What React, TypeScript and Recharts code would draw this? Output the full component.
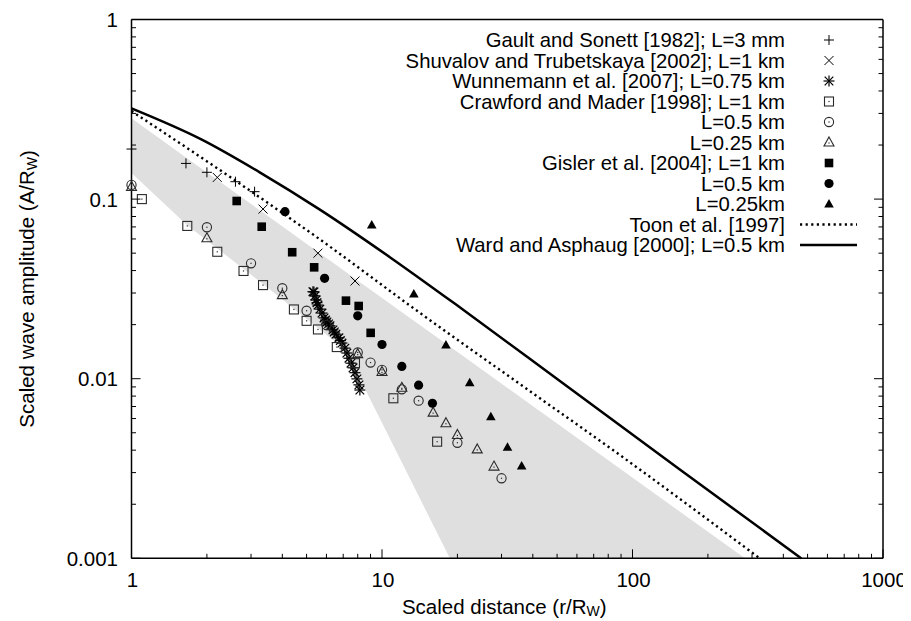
import React from 'react';
import { ComposedChart, XAxis, YAxis, Scatter, Line, Area, Legend } from 'recharts';

const FONT = '"Liberation Sans", Arial, Helvetica, sans-serif';
const FS = 20.5;
const LEGEND_FS = 20.3;

// ---- axis ticks ----
const X_TICKS = [1, 2, 3, 4, 5, 6, 7, 8, 9, 10, 20, 30, 40, 50, 60, 70, 80, 90, 100, 200, 300, 400, 500, 600, 700, 800, 900, 1000];
const X_MAJOR = [1, 10, 100, 1000];
const X_LABELS = ['1', '10', '100', '1000'];
const Y_TICKS = [0.001, 0.002, 0.003, 0.004, 0.005, 0.006, 0.007, 0.008, 0.009, 0.01, 0.02, 0.03, 0.04, 0.05, 0.06, 0.07, 0.08, 0.09, 0.1, 0.2, 0.3, 0.4, 0.5, 0.6, 0.7, 0.8, 0.9, 1];
const Y_MAJOR = [0.001, 0.01, 0.1, 1];
const Y_LABELS = ['0.001', '0.01', '0.1', '1'];

// ---- data series ----
const GAULT_X = [1.0, 1.65, 2.0, 2.6, 3.1];
const GAULT_Y = [0.19, 0.158, 0.141, 0.125, 0.11];

const SHUV_X = [2.2, 3.35, 5.55, 7.8];
const SHUV_Y = [0.132, 0.088, 0.05, 0.035];

const WUNN_X = [5.3, 5.35, 5.4, 5.45, 5.5, 5.55, 5.65, 5.76, 5.87, 5.95, 6.03, 6.12, 6.2, 6.37, 6.45, 6.55, 6.73, 6.82, 6.92, 7.11, 7.24, 7.38, 7.52, 7.66, 7.8, 7.94, 8.09, 8.16];
const WUNN_Y = [0.0305, 0.0304, 0.0289, 0.0274, 0.0265, 0.0257, 0.0244, 0.0232, 0.0218, 0.0212, 0.0207, 0.0202, 0.0197, 0.0187, 0.0182, 0.0177, 0.0169, 0.0163, 0.0158, 0.0148, 0.0139, 0.013, 0.0122, 0.0115, 0.0108, 0.00998, 0.00924, 0.00865];

const CM1_X = [1.1, 1.67, 2.2, 2.8, 3.35, 4.45, 5.0, 5.55, 6.6, 7.8, 11.1, 16.6];
const CM1_Y = [0.1, 0.0709, 0.0509, 0.0398, 0.0332, 0.0243, 0.021, 0.0188, 0.015, 0.0122, 0.00778, 0.00446];

const CM05_X = [1, 2, 3, 4, 5, 6, 8, 9, 10, 12, 14, 20, 30];
const CM05_Y = [0.12, 0.0697, 0.0439, 0.0319, 0.0239, 0.0199, 0.014, 0.0123, 0.0112, 0.00873, 0.00754, 0.0044, 0.00279];

const CM025_X = [1, 2, 4, 8, 10, 12, 16, 18, 20, 24, 28];
const CM025_Y = [0.117, 0.0605, 0.0292, 0.0137, 0.0109, 0.0089, 0.00647, 0.00565, 0.00486, 0.00404, 0.00324];

const G1_X = [2.63, 3.31, 4.38, 5.36, 7.18, 8.07, 9.01];
const G1_Y = [0.0976, 0.0702, 0.0506, 0.0417, 0.0272, 0.0254, 0.018];

const G05_X = [4.1, 5.9, 8, 10, 12, 14, 15.9];
const G05_Y = [0.0851, 0.0362, 0.0224, 0.0155, 0.0117, 0.0092, 0.0073];

const G025_X = [9.1, 13.4, 18, 22.4, 27.2, 31.7, 36.1];
const G025_Y = [0.0718, 0.0296, 0.0154, 0.0095, 0.00614, 0.00415, 0.00327];

const TOON_X = [1, 2.47, 5.48, 14.2, 35.5, 89, 322];
const TOON_Y = [0.309, 0.133, 0.0615, 0.0232, 0.00934, 0.00376, 0.001];

const WARD_X = [1, 1.9, 3.25, 5.65, 10.75, 20.5, 51.3, 154, 472];
const WARD_Y = [0.32, 0.215, 0.141, 0.0874, 0.0475, 0.0249, 0.0097, 0.00313, 0.001];

// shaded band (lower / upper boundaries)
const BAND_X = [1, 1.665, 3.35, 5.55, 6.67, 7.59, 18.66, 281];
const BAND_LOW = [0.1397, 0.0717, 0.0337, 0.01915, 0.0156, 0.01223, 0.001, 0.001];
const BAND_HIGH = [0.282, 0.169, 0.0841, 0.0508, 0.0423, 0.0371, 0.0151, 0.001];

const LEGEND_LABELS = [
  'Gault and Sonett [1982]; L=3 mm',
  'Shuvalov and Trubetskaya [2002]; L=1 km',
  'Wunnemann et al. [2007]; L=0.75 km',
  'Crawford and Mader [1998]; L=1 km',
  'L=0.5 km',
  'L=0.25 km',
  'Gisler et al. [2004]; L=1 km',
  'L=0.5 km',
  'L=0.25km',
  'Toon et al. [1997]',
  'Ward and Asphaug [2000]; L=0.5 km',
];
const LEGEND_KINDS = ['plus', 'cross', 'star', 'osq', 'ocirc', 'otri', 'fsq', 'fcirc', 'ftri', 'dotted', 'solid'];

const zip = (xs: number[], ys: number[]) => xs.map((x, i) => ({ x, y: ys[i] }));
const bandData = BAND_X.map((x, i) => ({ x, band: [BAND_LOW[i], BAND_HIGH[i]] }));

const INK = '#000';
const OPEN = '#2a2a2a';

function Marker({ kind, cx, cy }: { kind: string; cx: number; cy: number }) {
  if (cx == null || cy == null || isNaN(cx) || isNaN(cy)) return null;
  switch (kind) {
    case 'plus':
      return (
        <g stroke={INK} strokeWidth={1}>
          <line x1={cx - 5} x2={cx + 5} y1={cy} y2={cy} />
          <line x1={cx} x2={cx} y1={cy - 5} y2={cy + 5} />
        </g>
      );
    case 'cross':
      return (
        <g stroke={INK} strokeWidth={1}>
          <line x1={cx - 4.5} y1={cy - 4.5} x2={cx + 4.5} y2={cy + 4.5} />
          <line x1={cx - 4.5} y1={cy + 4.5} x2={cx + 4.5} y2={cy - 4.5} />
        </g>
      );
    case 'star':
      return (
        <g stroke={INK} strokeWidth={1.2}>
          <line x1={cx - 5.5} x2={cx + 5.5} y1={cy} y2={cy} />
          <line x1={cx} x2={cx} y1={cy - 5.5} y2={cy + 5.5} />
          <line x1={cx - 4.3} y1={cy - 4.3} x2={cx + 4.3} y2={cy + 4.3} />
          <line x1={cx - 4.3} y1={cy + 4.3} x2={cx + 4.3} y2={cy - 4.3} />
        </g>
      );
    case 'osq':
      return (
        <g>
          <rect x={cx - 4.5} y={cy - 4.5} width={9} height={9} fill="none" stroke={OPEN} strokeWidth={1.1} />
          <rect x={cx - 0.6} y={cy - 0.6} width={1.2} height={1.2} fill={OPEN} />
        </g>
      );
    case 'ocirc':
      return (
        <g>
          <circle cx={cx} cy={cy} r={4.6} fill="none" stroke={OPEN} strokeWidth={1.1} />
          <rect x={cx - 0.6} y={cy - 0.6} width={1.2} height={1.2} fill={OPEN} />
        </g>
      );
    case 'otri':
      return (
        <g>
          <polygon points={`${cx},${cy - 5.5} ${cx + 5},${cy + 3.5} ${cx - 5},${cy + 3.5}`} fill="none" stroke={OPEN} strokeWidth={1.1} />
          <rect x={cx - 0.6} y={cy - 0.1} width={1.2} height={1.2} fill={OPEN} />
        </g>
      );
    case 'fsq':
      return <rect x={cx - 4.3} y={cy - 4.3} width={8.6} height={8.6} fill={INK} />;
    case 'fcirc':
      return <circle cx={cx} cy={cy} r={4.6} fill={INK} />;
    case 'ftri':
      return <polygon points={`${cx},${cy - 5} ${cx + 4.8},${cy + 3.5} ${cx - 4.8},${cy + 3.5}`} fill={INK} />;
    default:
      return null;
  }
}

const shapeOf = (kind: string) => (p: any) => <Marker kind={kind} cx={p.cx} cy={p.cy} />;

const textProps = { fontFamily: FONT, fontSize: FS, fill: '#000' };

const XTickBottom = (props: any) => {
  const { x, y, payload } = props;
  const idx = X_MAJOR.indexOf(payload.value);
  const major = idx >= 0;
  return (
    <g>
      <line x1={x} x2={x} y1={y} y2={y - (major ? 9 : 4.5)} stroke={INK} strokeWidth={1} />
      {major && (
        <text x={x + 1} y={y + 21} textAnchor="middle" dominantBaseline="central" {...textProps}>
          {X_LABELS[idx]}
        </text>
      )}
    </g>
  );
};

const XTickTop = (props: any) => {
  const { x, y, payload } = props;
  const major = X_MAJOR.indexOf(payload.value) >= 0;
  return <line x1={x} x2={x} y1={y} y2={y + (major ? 9 : 4.5)} stroke={INK} strokeWidth={1} />;
};

const YTickLeft = (props: any) => {
  const { x, y, payload } = props;
  const idx = Y_MAJOR.indexOf(payload.value);
  const major = idx >= 0;
  return (
    <g>
      <line x1={x} x2={x + (major ? 9 : 4.5)} y1={y} y2={y} stroke={INK} strokeWidth={1} />
      {major && (
        <text x={x - 13.5} y={y} textAnchor="end" dominantBaseline="central" {...textProps}>
          {Y_LABELS[idx]}
        </text>
      )}
    </g>
  );
};

const YTickRight = (props: any) => {
  const { x, y, payload } = props;
  const major = Y_MAJOR.indexOf(payload.value) >= 0;
  return <line x1={x} x2={x - (major ? 9 : 4.5)} y1={y} y2={y} stroke={INK} strokeWidth={1} />;
};

const XTitle = (props: any) => {
  const vb = props.viewBox || { x: 0, y: 0, width: 0, height: 0 };
  const cx = vb.x + vb.width / 2 - 3;
  const cy = vb.y + 48;
  return (
    <text x={cx} y={cy} textAnchor="middle" dominantBaseline="central" {...textProps}>
      Scaled distance (r/R
      <tspan dy={5} fontSize={14}>W</tspan>
      <tspan dy={-5}>)</tspan>
    </text>
  );
};

const YTitle = (props: any) => {
  const vb = props.viewBox || { x: 0, y: 0, width: 0, height: 0 };
  const cx = vb.x + 19;
  const cy = vb.y + vb.height / 2;
  return (
    <text x={cx} y={cy} transform={`rotate(-90, ${cx}, ${cy})`} textAnchor="middle" dominantBaseline="central" {...textProps}>
      Scaled wave amplitude (A/R
      <tspan dy={5} fontSize={14}>W</tspan>
      <tspan dy={-5}>)</tspan>
    </text>
  );
};

const LegendBox = () => (
  <svg width={520} height={240} style={{ display: 'block', overflow: 'visible' }}>
    {LEGEND_LABELS.map((lab, i) => {
      const cy = 12 + i * 20.5;
      const kind = LEGEND_KINDS[i];
      return (
        <g key={i}>
          <text x={415} y={cy} textAnchor="end" dominantBaseline="central" fontFamily={FONT} fontSize={LEGEND_FS} fill="#000">
            {lab}
          </text>
          {kind === 'dotted' ? (
            <line x1={430} x2={487} y1={cy} y2={cy} stroke={INK} strokeWidth={2.4} strokeDasharray="2.2 3.4" />
          ) : kind === 'solid' ? (
            <line x1={430} x2={487} y1={cy} y2={cy} stroke={INK} strokeWidth={2.5} />
          ) : (
            <Marker kind={kind} cx={459} cy={cy} />
          )}
        </g>
      );
    })}
  </svg>
);

const axisLine = { stroke: INK, strokeWidth: 1.5 };

export default function App() {
  return (
    <div style={{ width: 903, height: 613 }}>
      <ComposedChart
        width={903}
        height={613}
        margin={{ top: 10.5, right: 27, left: 0, bottom: 0 }}
        style={{ fontFamily: FONT }}
      >
        <XAxis
          xAxisId="main"
          dataKey="x"
          type="number"
          scale="log"
          domain={[1, 1000]}
          ticks={X_TICKS}
          interval={0}
          tick={<XTickBottom />}
          tickLine={false}
          tickSize={0}
          tickMargin={0}
          height={62.7}
          axisLine={axisLine}
          label={<XTitle />}
        />
        <XAxis
          xAxisId="top"
          orientation="top"
          type="number"
          scale="log"
          domain={[1, 1000]}
          allowDataOverflow
          ticks={X_TICKS}
          interval={0}
          tick={<XTickTop />}
          tickLine={false}
          tickSize={0}
          tickMargin={0}
          height={1}
          axisLine={axisLine}
        />
        <YAxis
          yAxisId="main"
          dataKey="y"
          type="number"
          scale="log"
          domain={[0.001, 1]}
          ticks={Y_TICKS}
          interval={0}
          tick={<YTickLeft />}
          tickLine={false}
          tickSize={0}
          tickMargin={0}
          width={123.5}
          axisLine={axisLine}
          label={<YTitle />}
        />
        <YAxis
          yAxisId="right"
          orientation="right"
          type="number"
          scale="log"
          domain={[0.001, 1]}
          allowDataOverflow
          ticks={Y_TICKS}
          interval={0}
          tick={<YTickRight />}
          tickLine={false}
          tickSize={0}
          tickMargin={0}
          width={1}
          axisLine={axisLine}
        />

        <Area
          xAxisId="main"
          yAxisId="main"
          data={bandData}
          dataKey="band"
          type="linear"
          fill="#dfdfdf"
          fillOpacity={1}
          stroke="none"
          dot={false}
          activeDot={false}
          isAnimationActive={false}
          legendType="none"
        />
        <Line
          xAxisId="main"
          yAxisId="main"
          data={zip(TOON_X, TOON_Y)}
          dataKey="y"
          type="monotone"
          stroke={INK}
          strokeWidth={2.4}
          strokeDasharray="2.2 3.4"
          dot={false}
          activeDot={false}
          isAnimationActive={false}
        />
        <Line
          xAxisId="main"
          yAxisId="main"
          data={zip(WARD_X, WARD_Y)}
          dataKey="y"
          type="monotone"
          stroke={INK}
          strokeWidth={2.5}
          dot={false}
          activeDot={false}
          isAnimationActive={false}
        />
        <Scatter xAxisId="main" yAxisId="main" data={zip(GAULT_X, GAULT_Y)} shape={shapeOf('plus')} isAnimationActive={false} />
        <Scatter xAxisId="main" yAxisId="main" data={zip(SHUV_X, SHUV_Y)} shape={shapeOf('cross')} isAnimationActive={false} />
        <Scatter xAxisId="main" yAxisId="main" data={zip(WUNN_X, WUNN_Y)} shape={shapeOf('star')} isAnimationActive={false} />
        <Scatter xAxisId="main" yAxisId="main" data={zip(CM1_X, CM1_Y)} shape={shapeOf('osq')} isAnimationActive={false} />
        <Scatter xAxisId="main" yAxisId="main" data={zip(CM05_X, CM05_Y)} shape={shapeOf('ocirc')} isAnimationActive={false} />
        <Scatter xAxisId="main" yAxisId="main" data={zip(CM025_X, CM025_Y)} shape={shapeOf('otri')} isAnimationActive={false} />
        <Scatter xAxisId="main" yAxisId="main" data={zip(G1_X, G1_Y)} shape={shapeOf('fsq')} isAnimationActive={false} />
        <Scatter xAxisId="main" yAxisId="main" data={zip(G05_X, G05_Y)} shape={shapeOf('fcirc')} isAnimationActive={false} />
        <Scatter xAxisId="main" yAxisId="main" data={zip(G025_X, G025_Y)} shape={shapeOf('ftri')} isAnimationActive={false} />

        <Legend
          layout="vertical"
          align="center"
          verticalAlign="middle"
          content={<LegendBox />}
          wrapperStyle={{ position: 'absolute', left: 362, top: 20, width: 520, height: 240 }}
        />
      </ComposedChart>
    </div>
  );
}
